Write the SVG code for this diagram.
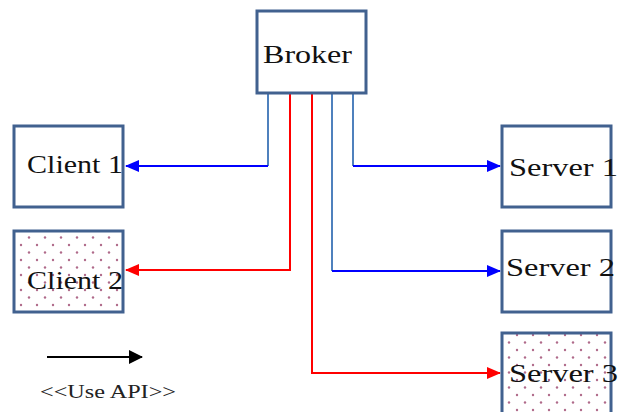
<svg xmlns="http://www.w3.org/2000/svg" width="627" height="412" viewBox="0 0 627 412">
<style>
.box{fill:#fff;stroke:#41618f;stroke-width:3}
.dot{fill:url(#dots);stroke:#41618f;stroke-width:3}
.lbl{font-family:"Liberation Serif","DejaVu Serif",serif;font-size:26px;fill:#111}
.v{fill:none;stroke:#4f81bd;stroke-width:2}
.b{fill:none;stroke:#0000ff;stroke-width:2}
.r{fill:none;stroke:#ff0000;stroke-width:2}
</style>
<defs>
<pattern id="dots" width="16" height="15" patternUnits="userSpaceOnUse" x="3" y="3">
<rect width="16" height="15" fill="#fff"/>
<circle cx="2" cy="2" r="1.2" fill="#b06a8a"/>
<circle cx="10" cy="9.5" r="1.2" fill="#b06a8a"/>
</pattern>
<marker id="ab" markerWidth="14" markerHeight="12" refX="13" refY="6" orient="auto" markerUnits="userSpaceOnUse" viewBox="0 0 14 12"><path d="M0,0 L14,6 L0,12 z" fill="#0000ff"/></marker>
<marker id="ar" markerWidth="14" markerHeight="12" refX="13" refY="6" orient="auto" markerUnits="userSpaceOnUse" viewBox="0 0 14 12"><path d="M0,0 L14,6 L0,12 z" fill="#ff0000"/></marker>
<marker id="ak" markerWidth="14" markerHeight="14" refX="13" refY="7" orient="auto" markerUnits="userSpaceOnUse" viewBox="0 0 14 14"><path d="M0,0 L14,7 L0,14 z" fill="#000"/></marker>
</defs>
<g id="connectors">
<path class="v" d="M268,94 V166"/>
<path class="b" d="M268,166 H126" marker-end="url(#ab)"/>
<path class="r" d="M290,94 V270 H126" marker-end="url(#ar)"/>
<path class="r" d="M312,94 V373 H500" marker-end="url(#ar)"/>
<path class="v" d="M332,94 V271"/>
<path class="b" d="M332,271 H500" marker-end="url(#ab)"/>
<path class="v" d="M353,94 V166"/>
<path class="b" d="M353,166 H500" marker-end="url(#ab)"/>
</g>
<g id="broker"><rect class="box" x="257" y="11" width="109" height="82"/><text class="lbl" x="263" y="63" textLength="89" lengthAdjust="spacingAndGlyphs">Broker</text></g>
<g id="client1"><rect class="box" x="14" y="126" width="109" height="81"/><text class="lbl" x="27" y="173" textLength="96" lengthAdjust="spacingAndGlyphs">Client 1</text></g>
<g id="client2"><rect class="dot" x="14" y="231" width="109" height="81"/><text class="lbl" x="27" y="289" textLength="96" lengthAdjust="spacingAndGlyphs">Client 2</text></g>
<g id="server1"><rect class="box" x="502" y="126" width="109" height="81"/><text class="lbl" x="509" y="176" textLength="109" lengthAdjust="spacingAndGlyphs">Server 1</text></g>
<g id="server2"><rect class="box" x="502" y="231" width="109" height="81"/><text class="lbl" x="506" y="276" textLength="109" lengthAdjust="spacingAndGlyphs">Server 2</text></g>
<g id="server3"><rect class="dot" x="502" y="333" width="109" height="82"/><text class="lbl" x="509" y="382" textLength="109" lengthAdjust="spacingAndGlyphs">Server 3</text></g>
<g id="legend">
<path d="M47,357 H142" stroke="#000" stroke-width="2" marker-end="url(#ak)"/>
<text x="40" y="398" textLength="136" lengthAdjust="spacingAndGlyphs" style="font-family:'Liberation Serif','DejaVu Serif',serif;font-size:19px;fill:#222">&lt;&lt;Use API&gt;&gt;</text>
</g>
</svg>
